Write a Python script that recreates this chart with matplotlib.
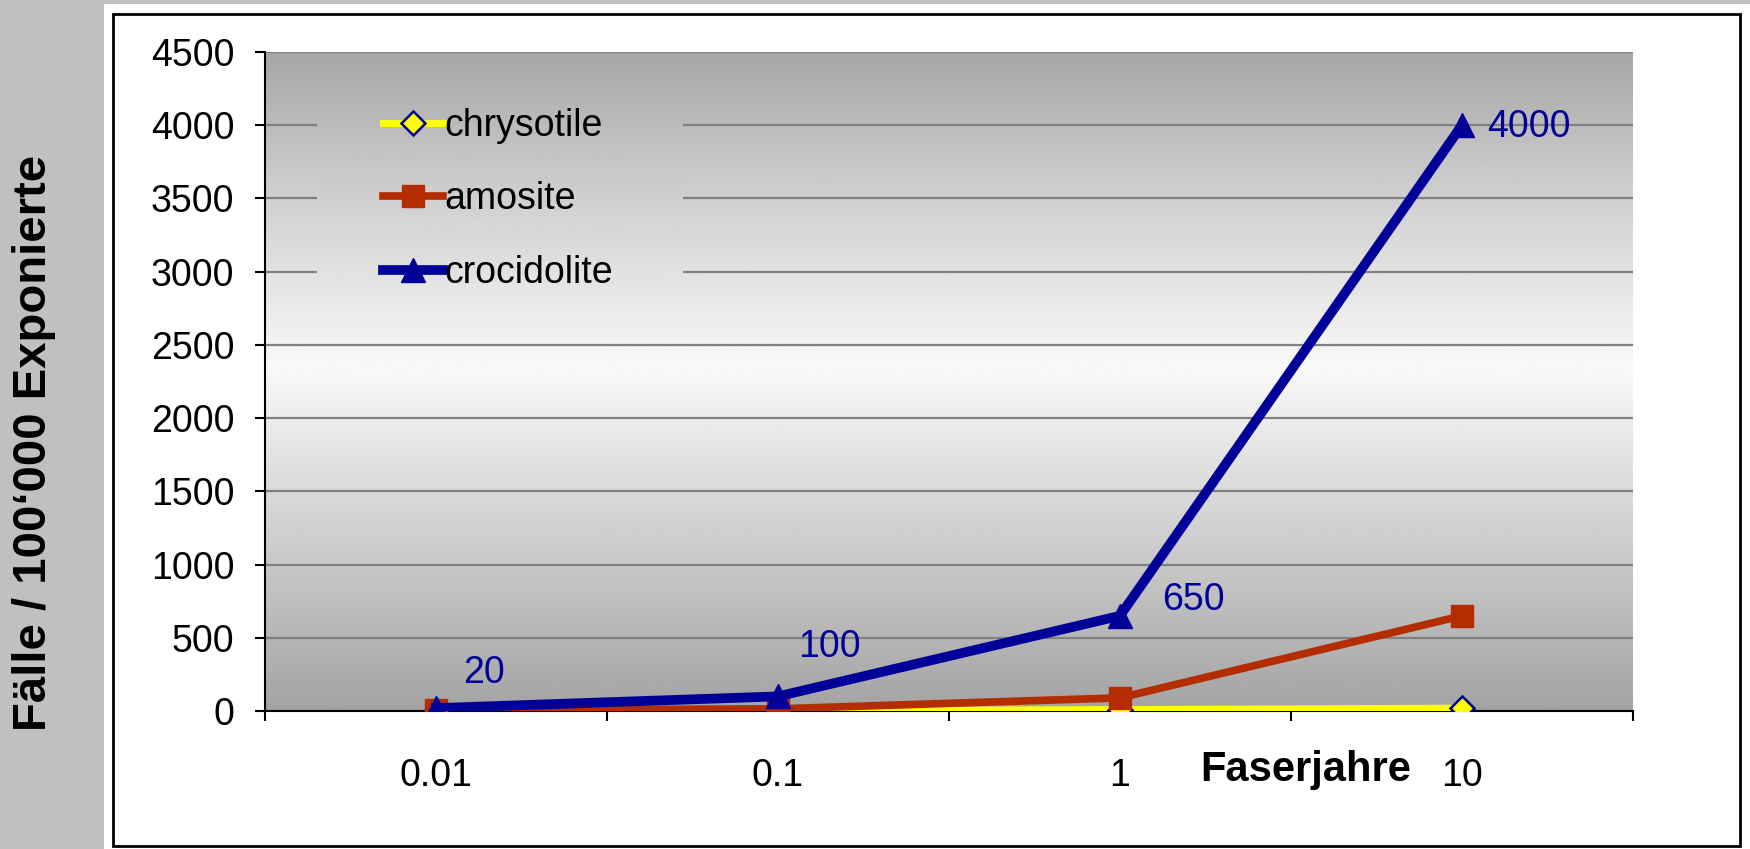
import numpy as np
import matplotlib
matplotlib.use("Agg")
import matplotlib.pyplot as plt
from matplotlib.patches import Rectangle

plt.rcParams["font.family"] = ["Liberation Sans", "DejaVu Sans"]

# data
categories = ["0.01", "0.1", "1", "10"]
chrysotile = [1, 2, 10, 20]
amosite = [5, 15, 90, 650]
crocidolite = [20, 100, 650, 4000]
croc_labels = ["20", "100", "650", "4000"]
yticks = [0, 500, 1000, 1500, 2000, 2500, 3000, 3500, 4000, 4500]

fig = plt.figure(figsize=(17.5, 8.49), dpi=100, facecolor="#c0c0c0")

# white panel with black frame
fig.patches.append(Rectangle((0.0594, 0), 0.95, 0.995, transform=fig.transFigure,
                             facecolor="white", edgecolor="none", zorder=-2))
fig.patches.append(Rectangle((0.0646, 0.004), 0.9297, 0.9795, transform=fig.transFigure,
                             facecolor="none", edgecolor="black", linewidth=2, zorder=-1))

ax = fig.add_axes([0.1514, 0.1625, 0.7817, 0.7763])

# gradient background
f = np.linspace(1, 0, 400)
grad = np.interp(f, [0, 0.25, 0.52, 0.8, 1], [0.64, 0.80, 0.975, 0.80, 0.65])
grad = np.tile(grad[:, None], (1, 2))
ax.imshow(grad, extent=[0, 1, 0, 1], transform=ax.transAxes, aspect="auto",
          cmap="gray", vmin=0, vmax=1, zorder=0)
cover = ax.imshow(grad, extent=[0, 1, 0, 1], transform=ax.transAxes, aspect="auto",
                  cmap="gray", vmin=0, vmax=1, zorder=0.7)
cover.set_clip_path(Rectangle((0.038, 0.624), 0.267, 0.318, transform=ax.transAxes))

x = np.arange(len(categories))
ax.plot(x, chrysotile, color="#ffff00", lw=5, marker="D", ms=12,
        mfc="#ffff00", mec="#000090", mew=1.8, label="chrysotile", zorder=3)
ax.plot(x, amosite, color="#b32d00", lw=5.5, marker="s", ms=16,
        mfc="#b32d00", mec="#b32d00", label="amosite", zorder=4)
ax.plot(x, crocidolite, color="#000099", lw=7, marker="^", ms=17,
        mfc="#000099", mec="#000099", label="crocidolite", zorder=5)

offsets = [(48, 35), (51, 49), (74, 16), (67, -2)]
for xi, yi, lab, off in zip(x, crocidolite, croc_labels, offsets):
    ax.annotate(lab, (xi, yi), xytext=off, textcoords="offset pixels",
                ha="center", va="center", color="#000099", fontsize=27, zorder=6)

ax.set_xlim(-0.5, 3.5)
ax.set_ylim(0, 4500)
ax.set_yticks(yticks)
ax.set_axisbelow(True)
ax.yaxis.grid(True, color="#808080", lw=1.6)

ax.set_xticks([-0.5, 0.5, 1.5, 2.5, 3.5])
ax.set_xticklabels([])
ax.set_xticks(x, minor=True)
ax.set_xticklabels(categories, minor=True)
ax.tick_params(axis="x", which="major", direction="out", length=7, width=1.5)
ax.tick_params(axis="x", which="minor", length=0, pad=34, labelsize=27)
ax.tick_params(axis="y", direction="out", length=7, width=1.5, pad=15, labelsize=27)

for s in ["top", "right"]:
    ax.spines[s].set_visible(False)
for s in ["left", "bottom"]:
    ax.spines[s].set_linewidth(1.5)
    ax.spines[s].set_color("black")

ax.set_xlabel("Faserjahre", fontsize=30, fontweight="bold")
ax.xaxis.set_label_coords(0.761, -0.0895)
ax.xaxis.label.set_va("center")
ax.set_ylabel("Fälle / 100‘000 Exponierte", fontsize=34, fontweight="bold")
ax.yaxis.set_label_coords(-0.169, 0.4067)
ax.yaxis.label.set_va("center")

leg = ax.legend(loc="upper left", bbox_to_anchor=(0.086, 0.915), frameon=False,
                fontsize=27, handlelength=1.6, handletextpad=0.05,
                labelspacing=1.0, borderpad=0, borderaxespad=0)
leg.set_zorder(6)

plt.savefig("out.png", dpi=100, facecolor=fig.get_facecolor())
plt.close()
